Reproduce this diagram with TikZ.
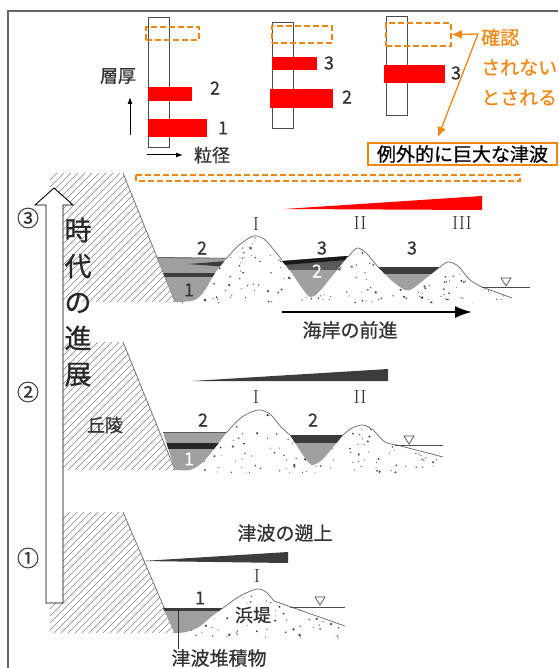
\documentclass[tikz,border=0pt]{standalone}
\usepackage{fontspec}
\newfontfamily\jp[FakeBold=0.6]{Noto Sans CJK JP}
\usetikzlibrary{arrows.meta}
\definecolor{tsunamiorange}{RGB}{240,135,20}
\definecolor{layergray}{RGB}{160,160,160}
\definecolor{layerdark}{RGB}{60,60,60}

\begin{document}
\begin{tikzpicture}[x=1pt,y=-1pt,
  lbl/.style={font=\jp\fontsize{18}{18}\selectfont, text=black!80, inner sep=0pt},
  roman/.style={font=\fontsize{19}{19}\selectfont, text=black!80, inner sep=0pt},
  jlbl/.style={font=\jp\fontsize{19}{19}\selectfont, text=black!80, inner sep=0pt},
  column/.style={draw=black!70, line width=0.8pt, fill=white},
  gapbox/.style={draw=tsunamiorange, line width=1.6pt, dash pattern=on 6pt off 3pt},
  orangearrow/.style={draw=tsunamiorange, line width=1.3pt, -{Latex[length=10pt,width=9pt]}},
  hatchline/.style={draw=black!50, line width=0.6pt},
  ground/.style={draw=black!60, line width=0.7pt},
  sanddot/.style={fill=black!75},
  sealevel/.style={draw=black!70, line width=0.7pt},
]
\useasboundingbox (0,0) rectangle (558,668);

% frame
\draw[black!60, line width=1.2pt] (8,668) -- (8,11) -- (558,11);

% grain size columns
\draw[column] (148,17) rectangle (169,147);
\draw[column] (272,22) rectangle (293,128);
\draw[column] (386,16) rectangle (407,115);
\fill[red] (148,87) rectangle (192,101);
\fill[red] (148,119) rectangle (207,137);
\fill[red] (272,57) rectangle (317,70);
\fill[red] (270,89) rectangle (333,108);
\fill[red] (384,65) rectangle (445,83);
\node[gapbox, minimum width=53pt, minimum height=13pt, inner sep=0pt] (gap1) at (172.5,33.5) {};
\node[gapbox, minimum width=60pt, minimum height=17pt, inner sep=0pt] (gap2) at (302,34.5) {};
\node[gapbox, minimum width=65pt, minimum height=23pt, inner sep=0pt] (gap3) at (418.5,34.5) {};
\node[lbl] (c1n2) at (215,88) {2};
\node[lbl] (c1n1) at (223,128) {1};
\node[lbl] (c2n3) at (329,63) {3};
\node[lbl] (c2n2) at (347,97) {2};
\node[lbl] (c3n3) at (456,73) {3};

% axes of the columns
\node[lbl] (thick) at (118,76) {層厚};
\coordinate (thk0) at (130,135);
\coordinate (thk1) at (130,97);
\draw[line width=1pt, -{Latex[length=7pt,width=5pt]}] (thk0) -- (thk1);
\node[lbl] (grain) at (212,155) {粒径};
\coordinate (gr0) at (147,155);
\draw[line width=1pt, -{Latex[length=7pt,width=5pt]}] (gr0) -- (grain.west -| 183,0);

% exceptional tsunami
\node[draw=tsunamiorange, line width=1.3pt, font=\jp\fontsize{19}{19}\selectfont,
  minimum width=189pt, minimum height=22pt, inner sep=0pt] (huge) at (462.5,154) {例外的に巨大な津波};
\node[font=\jp\fontsize{19}{30}\selectfont, text=tsunamiorange, align=left, anchor=west,
  inner sep=0pt] (unconf) at (481,67) {確認\\されない\\とされる};
\coordinate (fork) at (478,34);
\coordinate (hugetip) at (438,137);
\draw[orangearrow] (fork) -- (gap3.east);
\draw[orangearrow] (fork) -- (hugetip);
\draw[gapbox] (136,175) rectangle (520,181);

% cliffs
\foreach \ct/\cb in {173/302,342/470,512/633}{
  \begin{scope}
    \clip (50,\ct) -- (123,\ct) -- (175,\cb) -- (50,\cb) -- cycle;
    \foreach \k in {-100,-93,...,180} \draw[hatchline] (\k,\cb) -- ++(140,-140);
  \end{scope}
  \draw[ground] (123,\ct) -- (175,\cb);
}

\pgfmathsetseed{17}
% section 3
\begin{scope}
  \clip (157,257) -- (227,258) -- plot[smooth] coordinates {(227,258) (238,246) (253,236) (264,239) (274,250) (282,260)}
    -- (348,257) -- plot[smooth] coordinates {(348,257) (357,248) (366,253) (378,267)}
    -- (440,267) -- plot[smooth] coordinates {(440,267) (448,262) (458,266) (470,280) (482,287)}
    -- (512,298) -- (515,303) -- (175,303) -- cycle;
  \foreach \i in {1,...,260}{
    \pgfmathsetmacro\dx{157+358*rnd}
    \pgfmathsetmacro\dy{234+70*rnd}
    \pgfmathsetmacro\dr{0.5+1.0*rnd*rnd}
    \fill[sanddot] (\dx,\dy) circle (\dr pt);
  }
\end{scope}
\begin{scope}
  \clip (157,257) -- (227,258) -- plot[smooth] coordinates {(227,258) (215,273) (205,290) (195,300) (178,302)} -- (175,302) -- cycle;
  \fill[layergray] (150,250) rectangle (240,310);
  \fill[layerdark] (150,273) rectangle (240,277);
  \fill[layerdark] (188,264) -- (228,261) -- (228,267) -- cycle;
  \draw[black!60, line width=1.2pt] (150,257.5) -- (240,258);
\end{scope}
\begin{scope}
  \clip (282,261) -- (348,256) -- plot[smooth] coordinates {(348,256) (333,275) (318,293) (310,297) (302,288) (291,272) (282,261)} -- cycle;
  \fill[layergray] (270,250) rectangle (360,300);
  \fill[black!65] (270,250) rectangle (360,270);
  \fill[black!90] (270,262) -- (360,255) -- (360,259) -- (270,266) -- cycle;
\end{scope}
\begin{scope}
  \clip (378,267) -- (440,267) -- plot[smooth] coordinates {(440,267) (425,279) (412,289) (405,290) (392,281) (378,267)} -- cycle;
  \fill[layergray] (370,260) rectangle (450,295);
  \fill[layerdark] (370,260) rectangle (450,274);
\end{scope}
\draw[ground] plot[smooth] coordinates {(227,258) (238,246) (253,236) (264,239) (274,250) (282,260)};
\draw[ground] plot[smooth] coordinates {(348,257) (357,248) (366,253) (378,267)};
\draw[ground] plot[smooth] coordinates {(440,267) (448,262) (458,266) (470,280) (482,287)} -- (512,298);
\draw[sealevel] (482,287) -- (530,287);
\draw[sealevel] (501,278) -- (511,278) -- (506,286) -- cycle;
\fill[red] (284,209) -- (482,196) -- (482,210) -- cycle;
\node[lbl] (s3n2a) at (202,248) {2};
\node[lbl] (s3n1) at (189,290) {1};
\node[roman] (s3r1) at (256,224) {I};
\node[lbl] (s3n3a) at (322,248) {3};
\node[lbl, text=white] (s3n2b) at (317,271) {2};
\node[roman] (s3r2) at (360,223) {II};
\node[lbl] (s3n3b) at (412,248) {3};
\node[roman] (s3r3) at (462,223) {III};
\coordinate (coast0) at (282,312);
\coordinate (coast1) at (472,312);
\draw[line width=2.2pt, -{Latex[length=17pt,width=12pt]}] (coast0) -- (coast1);
\node[jlbl] (coast) at (350,330) {海岸の前進};

% section 2
\begin{scope}
  \clip (163,432) -- (227,432) -- plot[smooth] coordinates {(227,432) (242,417) (258,410) (270,414) (281,427) (290,435)}
    -- (343,435) -- plot[smooth] coordinates {(343,435) (352,428) (363,425) (373,430) (385,442) (397,445)}
    -- (443,457) -- (446,473) -- (175,473) -- cycle;
  \foreach \i in {1,...,200}{
    \pgfmathsetmacro\dx{163+283*rnd}
    \pgfmathsetmacro\dy{408+66*rnd}
    \pgfmathsetmacro\dr{0.5+1.0*rnd*rnd}
    \fill[sanddot] (\dx,\dy) circle (\dr pt);
  }
\end{scope}
\begin{scope}
  \clip (163,432) -- (227,432) -- plot[smooth] coordinates {(227,432) (214,449) (202,463) (190,470) (177,470)} -- (175,470) -- cycle;
  \fill[layergray] (150,425) rectangle (240,475);
  \fill[black!85] (150,443) rectangle (240,449);
  \draw[black!65, line width=1.5pt] (150,432.5) -- (240,432.5);
\end{scope}
\begin{scope}
  \clip (290,435) -- (343,435) -- plot[smooth] coordinates {(343,435) (334,446) (322,460) (312,465) (305,458) (297,446) (290,435)} -- cycle;
  \fill[layergray] (280,430) rectangle (350,470);
  \fill[layerdark] (280,430) rectangle (350,443);
\end{scope}
\draw[ground] plot[smooth] coordinates {(227,432) (242,417) (258,410) (270,414) (281,427) (290,435)};
\draw[ground] plot[smooth] coordinates {(343,435) (352,428) (363,425) (373,430) (385,442) (397,445)} -- (443,457);
\draw[sealevel] (395,445) -- (443,445);
\draw[sealevel] (404,436) -- (414,436) -- (409,444) -- cycle;
\fill[layerdark] (192,381) -- (388,369) -- (388,381) -- cycle;
\node[lbl] (s2n2a) at (203,420) {2};
\node[lbl] (s2n2b) at (313,420) {2};
\node[lbl, text=white] (s2n1) at (189,459) {1};
\node[roman] (s2r1) at (256,397) {I};
\node[roman] (s2r2) at (360,397) {II};
\node[lbl] (hill) at (105,425) {丘陵};

% section 1
\begin{scope}
  \clip (163,608) -- (223,608) -- plot[smooth] coordinates {(223,608) (240,596) (257,589) (266,592) (274,601)}
    -- (345,626) -- (347,638) -- (186,638) -- (175,633) -- cycle;
  \foreach \i in {1,...,120}{
    \pgfmathsetmacro\dx{163+184*rnd}
    \pgfmathsetmacro\dy{587+52*rnd}
    \pgfmathsetmacro\dr{0.5+1.0*rnd*rnd}
    \fill[sanddot] (\dx,\dy) circle (\dr pt);
  }
\end{scope}
\begin{scope}
  \clip (163,608) -- (223,608) -- plot[smooth] coordinates {(223,608) (211,617) (199,627) (186,632) (176,633)} -- (175,633) -- cycle;
  \fill[layergray] (150,600) rectangle (230,640);
  \fill[layerdark] (150,600) rectangle (230,611);
\end{scope}
\draw[ground] plot[smooth] coordinates {(223,608) (240,596) (257,589) (266,592) (274,601)} -- (345,626);
\draw[sealevel] (290,607) -- (345,607);
\draw[sealevel] (315,597) -- (325,597) -- (320,605) -- cycle;
\fill[layerdark] (142,561) -- (288,552) -- (288,563) -- cycle;
\node[lbl] (s1n1) at (200,598) {1};
\node[roman] (s1r1) at (257,576) {I};
\node[lbl, fill=white, inner sep=1pt] (ridge) at (253,615) {浜堤};
\node[jlbl] (runup) at (285,533) {津波の遡上};
\node[jlbl] (depo) at (219,658) {津波堆積物};
\coordinate (deptop) at (178,610);
\draw[black!80, line width=0.8pt] (deptop) -- (deptop |- depo.north);

% time arrow
\draw[fill=white, line width=0.9pt] (46,603) -- (46,205) -- (35,205) -- (54,188) -- (73,205) -- (63,205) -- (63,603) -- cycle;
\node[font=\jp\fontsize{27}{36}\selectfont, align=center, inner sep=0pt, text=black!85] (era) at (78,302) {時\\代\\の\\進\\展};
\node[lbl, font=\jp\fontsize{22}{22}\selectfont] (st3) at (28,218) {③};
\node[lbl, font=\jp\fontsize{22}{22}\selectfont] (st2) at (28,392) {②};
\node[lbl, font=\jp\fontsize{22}{22}\selectfont] (st1) at (28,558) {①};
\end{tikzpicture}
\end{document}
